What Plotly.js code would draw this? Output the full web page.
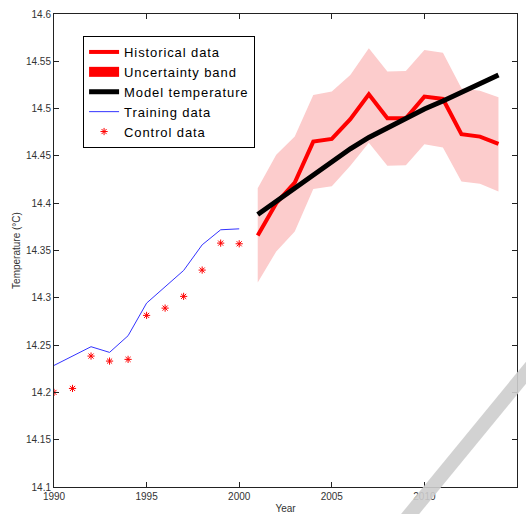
<!DOCTYPE html>
<html>
<head>
<meta charset="utf-8">
<script src="https://cdn.plot.ly/plotly-3.0.1.min.js"></script>
<style>
html,body{margin:0;padding:0;background:#fff;}
#chart{width:526px;height:514px;}
.legendtext{letter-spacing:0.9px;}
</style>
</head>
<body>
<div id="chart"></div>
<script>
// Training / control period
var trainYears = [1990,1991,1992,1993,1994,1995,1996,1997,1998,1999,2000];
var trainingData = [14.2285,14.2384,14.2483,14.2423,14.2599,14.2944,14.3120,14.3289,14.3560,14.3719,14.3729];
var controlData  = [14.2000,14.2042,14.2384,14.2331,14.2349,14.2814,14.2891,14.3015,14.3293,14.3578,14.3571];

// Forecast period
var histYears = [2001,2002,2003,2004,2005,2006,2007,2008,2009,2010,2011,2012,2013,2014];
var historicalData = [14.3658,14.4000,14.4218,14.4651,14.4680,14.4888,14.5152,14.4898,14.4898,14.5127,14.5102,14.4729,14.4704,14.4627];
var bandUpper = [14.4159,14.4511,14.4704,14.5145,14.5180,14.5356,14.5638,14.5391,14.5398,14.5620,14.5591,14.5215,14.5190,14.5120];
var bandLower = [14.3162,14.3490,14.3700,14.4150,14.4180,14.4395,14.4640,14.4395,14.4400,14.4624,14.4588,14.4229,14.4205,14.4123];
var modelTemp = [14.3880,14.4020,14.4160,14.4300,14.4445,14.4575,14.4695,14.4800,14.4900,14.4995,14.5080,14.5170,14.5260,14.5355];

var xTicks = [1990,1995,2000,2005,2010,2015];
var yTicks = [14.1,14.15,14.2,14.25,14.3,14.35,14.4,14.45,14.5,14.55,14.6];
var yTickText = ['14.1','14.15','14.2','14.25','14.3','14.35','14.4','14.45','14.5','14.55','14.6'];

var FONT = 'Liberation Sans, Arial, Helvetica, sans-serif';

var traces = [
  {x: histYears, y: bandLower, mode: 'lines', line: {width: 0, color: 'rgba(0,0,0,0)'},
   showlegend: false, hoverinfo: 'skip'},
  {x: histYears, y: bandUpper, mode: 'lines', line: {width: 0, color: 'rgba(0,0,0,0)'},
   fill: 'tonexty', fillcolor: 'rgb(252,204,204)', showlegend: false, hoverinfo: 'skip'},
  {x: histYears, y: historicalData, mode: 'lines', name: 'Historical data',
   line: {color: '#ff0000', width: 4}, legendrank: 1},
  {x: [histYears[0]], y: [null], mode: 'lines', name: 'Uncertainty band',
   line: {color: '#ff0000', width: 12}, legendrank: 2, hoverinfo: 'skip'},
  {x: histYears, y: modelTemp, mode: 'lines', name: 'Model temperature',
   line: {color: '#000000', width: 5}, legendrank: 3},
  {x: trainYears, y: trainingData, mode: 'lines', name: 'Training data',
   line: {color: '#3333ff', width: 1}, legendrank: 4},
  {x: trainYears, y: controlData, mode: 'markers', name: 'Control data',
   marker: {symbol: 'asterisk-open', size: 6, color: '#ff0000', line: {color: '#ff0000', width: 1}},
   legendrank: 5}
];

var axisCommon = {
  showline: true, linecolor: '#222', linewidth: 1, mirror: 'ticks',
  ticks: 'inside', ticklen: 5, tickcolor: '#222', tickwidth: 1,
  showgrid: false, zeroline: false,
  tickfont: {family: FONT, size: 10, color: '#333'}
};

var layout = {
  width: 526, height: 514,
  margin: {l: 54, r: 9, t: 14, b: 27, pad: 0},
  paper_bgcolor: '#fff', plot_bgcolor: '#fff',
  showlegend: true,
  legend: {x: 0.0628, y: 0.9535, xanchor: 'left', yanchor: 'top', traceorder: 'normal',
           bgcolor: '#fff', bordercolor: '#000', borderwidth: 1,
           font: {family: FONT, size: 13, color: '#000'}, tracegroupgap: 0},
  xaxis: Object.assign({}, axisCommon, {
    range: [1990, 2015], tickvals: xTicks, ticktext: xTicks.map(String),
    title: {text: 'Year', font: {family: FONT, size: 10, color: '#333'}, standoff: 4}
  }),
  yaxis: Object.assign({}, axisCommon, {
    range: [14.1, 14.6], tickvals: yTicks, ticktext: yTickText,
    title: {text: 'Temperature (°C)', font: {family: FONT, size: 10, color: '#333'}, standoff: 3}
  }),
  shapes: [
    {type: 'line', xref: 'paper', yref: 'paper', x0: 1.0596, y0: 0.2896, x1: 0.7408, y1: -0.0909,
     line: {color: 'rgba(205,205,205,0.9)', width: 14}, layer: 'above'}
  ]
};

Plotly.newPlot('chart', traces, layout, {staticPlot: true, displayModeBar: false});
</script>
</body>
</html>
